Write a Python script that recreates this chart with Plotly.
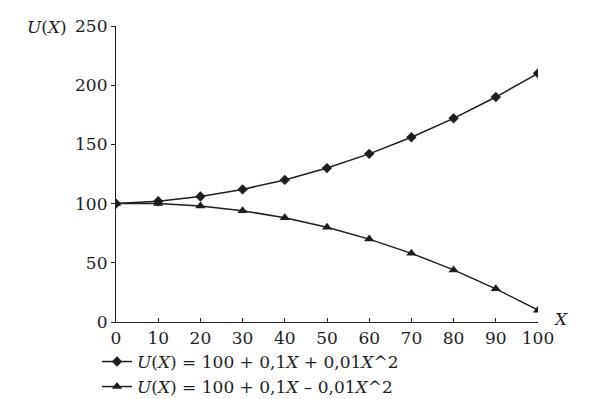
import plotly.graph_objects as go

x_vals = [0, 10, 20, 30, 40, 50, 60, 70, 80, 90, 100]
u_plus = [100, 102, 106, 112, 120, 130, 142, 156, 172, 190, 210]
u_minus = [100, 100, 98, 94, 88, 80, 70, 58, 44, 28, 10]
name_plus = "<i>U</i>(<i>X</i>) = 100 + 0,1<i>X</i> + 0,01<i>X</i>^2"
name_minus = "<i>U</i>(<i>X</i>) = 100 + 0,1<i>X</i> – 0,01<i>X</i>^2"
y_ticks = [0, 50, 100, 150, 200, 250]

FONT = "DejaVu Serif"
INK = "#1e1e1e"
FS = 17

fig = go.Figure()
fig.add_trace(go.Scatter(x=x_vals, y=u_plus, mode="lines+markers", name=name_plus,
                         line=dict(color=INK, width=1.5),
                         marker=dict(symbol="diamond", size=8, color=INK),
                         legend="legend"))
fig.add_trace(go.Scatter(x=x_vals, y=u_minus, mode="lines+markers", name=name_minus,
                         line=dict(color=INK, width=1.5),
                         marker=dict(symbol="triangle-up", size=9, color=INK),
                         legend="legend2"))

L, R, T, B = 116, 74, 26, 77
W, H = 612, 399
pw = W - L - R
ph = H - T - B

def px(xp):
    return (xp - L) / pw

def py(yp):
    return (H - B - yp) / ph

fig.update_layout(
    width=W, height=H,
    margin=dict(l=L, r=R, t=T, b=B, autoexpand=False),
    paper_bgcolor="white", plot_bgcolor="white",
    font=dict(family=FONT, size=FS, color=INK),
    xaxis=dict(range=[0, 100], tickvals=x_vals, showgrid=False, zeroline=False,
               showline=True, linecolor=INK, linewidth=1.2,
               ticks="inside", ticklen=4, tickcolor=INK,
               tickfont=dict(family=FONT, size=FS, color=INK)),
    yaxis=dict(range=[0, 250], tickvals=y_ticks, showgrid=False, zeroline=False,
               showline=True, linecolor=INK, linewidth=1.2,
               ticks="outside", ticklen=4, tickcolor=INK,
               tickfont=dict(family=FONT, size=FS, color=INK)),
    legend=dict(x=px(97), y=py(344), xanchor="left", yanchor="top",
                bgcolor="rgba(0,0,0,0)", font=dict(family=FONT, size=FS, color=INK)),
    legend2=dict(x=px(97), y=py(369), xanchor="left", yanchor="top",
                 bgcolor="rgba(0,0,0,0)", font=dict(family=FONT, size=FS, color=INK)),
    showlegend=True,
    annotations=[
        dict(text="<i>U</i>(<i>X</i>)", xref="paper", yref="paper", x=px(47), y=py(27),
             xanchor="center", yanchor="middle", showarrow=False,
             font=dict(family=FONT, size=FS, color=INK)),
        dict(text="<i>X</i>", xref="paper", yref="paper", x=px(560), y=py(319),
             xanchor="center", yanchor="middle", showarrow=False,
             font=dict(family=FONT, size=FS, color=INK)),
    ],
)

fig.write_html("out.html", config={"displayModeBar": False},
               post_script="document.body.style.margin='0';document.body.style.overflow='hidden';")
